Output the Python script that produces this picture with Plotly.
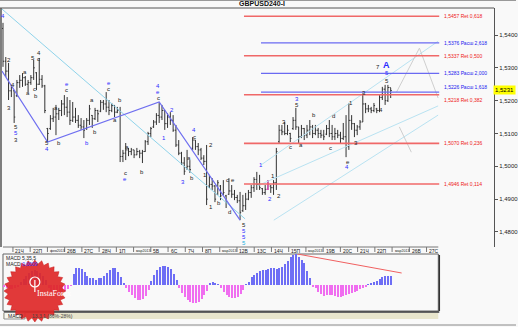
import math
import plotly.graph_objects as go

# ---------------- data ----------------
bar_open = [1.5420,1.5320,1.5290,1.5230,1.5230,1.5215,1.5255,1.5262,1.5270,1.5250,
            1.5255,1.5270,1.5285,1.5250,1.5265,1.5245,1.5115,1.5115,1.5145,1.5150,
            1.5160,1.5170,1.5190,1.5180,1.5165,1.5140,1.5150,1.5140,1.5125,1.5120,
            1.5115,1.5140,1.5155,1.5145,1.5170,1.5168,1.5195,1.5190,1.5180,1.5170,
            1.5185,1.5165,1.5170,1.5030,1.5040,1.5050,1.5045,1.5050,1.5035,1.5045,
            1.5040,1.5045,1.5075,1.5100,1.5120,1.5135,1.5155,1.5150,1.5170,1.5130,
            1.5150,1.5140,1.5110,1.5065,1.5040,1.5010,1.4995,1.5000,1.5055,1.5080,
            1.5060,1.5050,1.5025,1.5015,1.4940,1.4945,1.4940,1.4915,1.4940,1.4915,
            1.4910,1.4915,1.4925,1.4915,1.4905,1.4895,1.4865,1.4880,1.4900,1.4920,
            1.4935,1.4960,1.4945,1.4932,1.4920,1.4930,1.4940,1.4935,1.4950,1.5075,
            1.5110,1.5105,1.5100,1.5100,1.5115,1.5140,1.5120,1.5090,1.5115,1.5095,
            1.5110,1.5120,1.5100,1.5110,1.5100,1.5095,1.5098,1.5115,1.5100,1.5090,
            1.5100,1.5095,1.5085,1.5090,1.5060,1.5140,1.5130,1.5110,1.5120,1.5135,
            1.5190,1.5175,1.5175,1.5170,1.5175,1.5170,1.5210,1.5235,1.5200,1.5240]
bar_high = [1.5437,1.5333,1.5315,1.5248,1.5232,1.5263,1.5278,1.5284,1.5275,1.5263,
            1.5278,1.5324,1.5287,1.5330,1.5278,1.5248,1.5117,1.5156,1.5178,1.5187,
            1.5178,1.5202,1.5217,1.5211,1.5202,1.5196,1.5178,1.5156,1.5147,1.5141,
            1.5147,1.5187,1.5156,1.5178,1.5172,1.5202,1.5202,1.5226,1.5202,1.5193,
            1.5187,1.5181,1.5181,1.5050,1.5071,1.5056,1.5056,1.5050,1.5056,1.5050,
            1.5050,1.5080,1.5105,1.5120,1.5141,1.5162,1.5196,1.5187,1.5172,1.5162,
            1.5165,1.5156,1.5126,1.5080,1.5044,1.5028,1.5050,1.5019,1.5089,1.5080,
            1.5071,1.5056,1.5034,1.5065,1.4974,1.4964,1.4943,1.4958,1.4943,1.4958,
            1.4913,1.4964,1.4943,1.4928,1.4913,1.4922,1.4913,1.4919,1.4928,1.4943,
            1.4967,1.4983,1.4974,1.4934,1.4943,1.4958,1.4943,1.4958,1.5056,1.5126,
            1.5126,1.5135,1.5126,1.5102,1.5150,1.5178,1.5120,1.5126,1.5117,1.5126,
            1.5141,1.5126,1.5126,1.5117,1.5111,1.5111,1.5126,1.5141,1.5126,1.5117,
            1.5111,1.5105,1.5132,1.5156,1.5193,1.5156,1.5132,1.5126,1.5141,1.5223,
            1.5193,1.5187,1.5181,1.5193,1.5178,1.5217,1.5242,1.5248,1.5248,1.5239]
bar_low = [1.5303,1.5272,1.5202,1.5211,1.5132,1.5211,1.5239,1.5242,1.5245,1.5226,
           1.5248,1.5263,1.5232,1.5248,1.5239,1.5162,1.5074,1.5111,1.5135,1.5095,
           1.5141,1.5153,1.5156,1.5150,1.5126,1.5135,1.5132,1.5117,1.5111,1.5086,
           1.5111,1.5126,1.5117,1.5141,1.5135,1.5165,1.5172,1.5165,1.5156,1.5165,
           1.5150,1.5162,1.5013,1.5013,1.5019,1.5031,1.5034,1.5025,1.5034,1.5025,
           1.5010,1.5044,1.5065,1.5089,1.5117,1.5126,1.5132,1.5141,1.5111,1.5117,
           1.5126,1.5105,1.5059,1.5034,1.5004,1.4974,1.4989,1.4980,1.5050,1.5050,
           1.5034,1.5019,1.5004,1.4882,1.4934,1.4928,1.4891,1.4913,1.4897,1.4913,
           1.4873,1.4913,1.4904,1.4897,1.4888,1.4836,1.4861,1.4867,1.4897,1.4904,
           1.4922,1.4928,1.4928,1.4913,1.4913,1.4928,1.4919,1.4913,1.4928,1.5071,
           1.5095,1.5095,1.5095,1.5074,1.5111,1.5111,1.5071,1.5086,1.5080,1.5086,
           1.5095,1.5086,1.5095,1.5086,1.5086,1.5080,1.5095,1.5089,1.5080,1.5080,
           1.5086,1.5071,1.5080,1.5028,1.5050,1.5111,1.5089,1.5095,1.5111,1.5135,
           1.5162,1.5165,1.5162,1.5165,1.5162,1.5165,1.5202,1.5187,1.5196,1.5208]
bar_close = [1.5320,1.5290,1.5230,1.5240,1.5150,1.5255,1.5262,1.5270,1.5250,1.5255,
             1.5270,1.5300,1.5250,1.5265,1.5245,1.5170,1.5100,1.5145,1.5150,1.5160,
             1.5170,1.5190,1.5180,1.5165,1.5140,1.5150,1.5140,1.5125,1.5120,1.5110,
             1.5140,1.5175,1.5145,1.5170,1.5160,1.5195,1.5190,1.5180,1.5170,1.5185,
             1.5165,1.5170,1.5030,1.5040,1.5050,1.5045,1.5050,1.5035,1.5045,1.5040,
             1.5045,1.5075,1.5100,1.5115,1.5135,1.5155,1.5150,1.5170,1.5130,1.5150,
             1.5140,1.5110,1.5065,1.5040,1.5010,1.4985,1.5000,1.4990,1.5080,1.5060,
             1.5050,1.5025,1.5015,1.4900,1.4945,1.4940,1.4900,1.4950,1.4910,1.4920,
             1.4890,1.4925,1.4915,1.4905,1.4895,1.4860,1.4880,1.4900,1.4920,1.4935,
             1.4960,1.4945,1.4935,1.4920,1.4930,1.4945,1.4935,1.4950,1.5045,1.5110,
             1.5105,1.5100,1.5110,1.5085,1.5140,1.5120,1.5090,1.5115,1.5095,1.5110,
             1.5120,1.5100,1.5110,1.5100,1.5095,1.5090,1.5115,1.5100,1.5090,1.5100,
             1.5095,1.5085,1.5090,1.5060,1.5140,1.5130,1.5110,1.5120,1.5135,1.5190,
             1.5175,1.5175,1.5170,1.5185,1.5170,1.5210,1.5235,1.5200,1.5240,1.5231]
highlight_bar = 95          # bar drawn in magenta
last_price = 1.5231

# MACD histogram (pips, 1 pip = 0.0001)
macd_pips = [-2,-3,-4,-4,-3,-2,
             3,6,9,12,14,15,14,12,9,5,
             -3,-6,-8,-9,-9,-8,-6,-4,-1,
             10.7,16.7,17.2,16,13,9.3,7.3,7.3,5.5,6.7,7.5,9.3,12.5,15.5,17.5,17.5,13,8,1.7,
             -3.3,-6.7,-10,-12.7,-14.5,-15,-14,-11,-5,
             4,10,15,18.3,19.3,19.3,18.3,16,11,5,
             -3,-8,-12,-15,-17,-18.3,-18.3,-17,-14,-10,-6,
             1.7,3.3,2.3,0.7,
             -3.3,-6.7,-10,-11.7,-12.7,-12.7,-11.5,-9,-5,
             0.7,3.3,8.3,10.5,11.7,14,15,15.5,16.3,17,16.8,16.5,17.3,18.5,21,24.5,28.5,30.5,30.7,28,25,22,14,6.7,
             -1.7,-3.3,-6.7,-9.3,-10.7,-10,-9.5,-10.2,-11,-11.7,-11.7,-11,-10,-9.3,-8.3,-7.3,-6,-4,-2.7,-1.5,
             0.5,1.7,2.7,4,6,8.3,9.3,9.3,9.5]
macd_trend_x = [105.4, 142.9]
macd_trend_y = [31, 12]

# Fibonacci levels
ret_levels = [1.5457, 1.5337, 1.5218, 1.5070, 1.4946]
ret_ratios = ["0,618", "0,500", "0,382", "0,236", "0,114"]
ext_levels = [1.5376, 1.5283, 1.5226]
ext_ratios = ["2,618", "2,000", "1,618"]
ret_start, ext_start, fib_end = 86.4, 92.5, 156.4

# trend lines (bar index, price)
cyan_line_x = [-0.36, 86.8]
cyan_line_y = [1.5479, 1.4840]
zigzag_x = [-0.36, 16, 56, 85]
zigzag_y = [1.5290, 1.5074, 1.5196, 1.4836]
channel_lines = [([92.5, 156.0], [1.5004, 1.5381]),
                 ([91.1, 156.0], [1.4940, 1.5184]),
                 ([97.1, 156.0], [1.4836, 1.5156])]
gray_lines = [([141.1, 149.3], [1.5226, 1.5360]),
              ([149.3, 156.0], [1.5360, 1.5208]),
              ([142.1, 146.4], [1.5120, 1.5043])]

# wave labels: (bar index, price, text, color-key)
wave_labels = [
    (0, 1.5458, "4", "b"), (2.1, 1.5324, "2", "k"), (2.1, 1.5178, "3", "k"),
    (3.6, 1.5248, "4", "k"), (4.6, 1.5120, "5", "k"), (4.6, 1.5101, "5", "b"),
    (4.6, 1.5080, "3", "k"), (7.9, 1.5287, "a", "k"), (8.9, 1.5223, "a", "k"),
    (10.7, 1.5330, "5", "k"), (11.4, 1.5236, "c", "k"), (11.8, 1.5214, "b", "k"),
    (12.9, 1.5345, "4", "k"), (12.9, 1.5327, "c", "k"), (15.7, 1.5071, "5", "k"),
    (15.7, 1.5053, "4", "b"), (18.9, 1.5178, "a", "k"), (20, 1.5071, "b", "k"),
    (22.9, 1.5251, "e", "b"), (22.9, 1.5232, "c", "k"), (31.8, 1.5202, "a", "k"),
    (32.9, 1.5105, "b", "k"), (30, 1.5071, "b", "b"), (37.9, 1.5254, "e", "b"),
    (37.9, 1.5236, "c", "k"), (41.8, 1.5202, "b", "k"), (40, 1.5141, "a", "k"),
    (44.6, 1.5059, "a", "k"), (43.9, 1.4980, "c", "k"), (43.9, 1.4961, "e", "b"),
    (50, 1.4983, "b", "k"), (55.7, 1.5245, "4", "b"), (55.7, 1.5226, "e", "b"),
    (55.7, 1.5208, "c", "k"), (57.9, 1.5086, "1", "b"), (60.7, 1.5172, "2", "b"),
    (64.6, 1.4952, "3", "b"), (66.8, 1.5025, "a", "k"), (67.9, 1.4964, "b", "k"),
    (68.6, 1.5111, "4", "b"), (68.6, 1.5089, "c", "k"), (74.6, 1.5065, "2", "k"),
    (72.5, 1.4974, "1", "k"), (74.6, 1.4876, "1", "k"), (77.5, 1.4888, "b", "k"),
    (80.4, 1.4958, "c", "k"), (81.1, 1.4861, "d", "k"), (82.5, 1.4958, "e", "k"),
    (86.4, 1.4821, "5", "k"), (86.4, 1.4803, "5", "b"), (86.4, 1.4785, "5", "b"),
    (86.4, 1.4766, "5", "c"), (92.5, 1.5004, "1", "b"), (96.8, 1.4971, "1", "k"),
    (95.7, 1.4900, "2", "b"), (98.9, 1.4910, "2", "k"), (100.7, 1.5135, "3", "k"),
    (105.4, 1.5205, "3", "b"), (105.4, 1.5187, "5", "k"), (103.2, 1.5059, "c", "k"),
    (106.8, 1.5065, "a", "k"), (111.4, 1.5156, "b", "k"), (117.5, 1.5056, "c", "k"),
    (118.6, 1.5153, "d", "k"), (124.6, 1.5193, "1", "k"), (123.6, 1.5013, "e", "k"),
    (123.2, 1.4998, "4", "b"), (126.4, 1.5071, "3", "k"), (129.3, 1.5223, "3", "k"),
    (135.4, 1.5172, "4", "k"), (137.5, 1.5260, "5", "k"), (137.5, 1.5284, "5", "b"),
    (134.3, 1.5303, "7", "k"),
]
big_label = (137.5, 1.5308, "A")

# date axis
date_labels = ["21Ч", "22П", "фев2013", "26В", "27С", "28Ч", "1П", "мар2013", "5В", "6С",
               "7Ч", "8П", "мар2013", "12В", "13С", "14Ч", "15П", "мар2013", "19В", "20С",
               "21Ч", "22П", "мар2013", "26В", "27С"]

# ---------------- layout helpers ----------------
W, H = 518, 327
BAR_PX = 2.8  # pixel step per bar, first bar at x=3px
def px(x):
    return x / W
def py(y):
    return 1 - y / H
def idx_of(xpix):
    return (xpix - 3) / BAR_PX

FONT = "Liberation Sans, Arial, sans-serif"
col = {"k": "#222222", "b": "#2a2aff", "c": "#22b0e0"}
RED = "#f06868"
BLUE = "#6a6af2"

n = len(bar_close)
xs = list(range(n))
fig = go.Figure()

# trend lines (behind bars)
fig.add_trace(go.Scatter(x=cyan_line_x, y=cyan_line_y, mode="lines",
                         line=dict(color="#8fd3ea", width=1), hoverinfo="skip"))
for lx, ly in channel_lines:
    fig.add_trace(go.Scatter(x=lx, y=ly, mode="lines",
                             line=dict(color="#b9e3f2", width=1), hoverinfo="skip"))
for lx, ly in gray_lines:
    fig.add_trace(go.Scatter(x=lx, y=ly, mode="lines",
                             line=dict(color="#cfcfcf", width=1), hoverinfo="skip"))
fig.add_trace(go.Scatter(x=zigzag_x, y=zigzag_y, mode="lines",
                         line=dict(color="#6f6ff0", width=1.2), hoverinfo="skip"))

# fib lines
for lv in ret_levels:
    fig.add_trace(go.Scatter(x=[ret_start, fib_end], y=[lv, lv], mode="lines",
                             line=dict(color=RED, width=1.6), hoverinfo="skip"))
for lv in ext_levels:
    fig.add_trace(go.Scatter(x=[ext_start, fib_end], y=[lv, lv], mode="lines",
                             line=dict(color=BLUE, width=1.4), hoverinfo="skip"))

# price bars
fig.add_trace(go.Ohlc(x=xs, open=bar_open, high=bar_high, low=bar_low, close=bar_close,
                      increasing=dict(line=dict(color="#333333", width=1)),
                      decreasing=dict(line=dict(color="#333333", width=1)),
                      tickwidth=0.4, hoverinfo="skip"))
fig.add_trace(go.Ohlc(x=[highlight_bar], open=[bar_open[highlight_bar]],
                      high=[bar_high[highlight_bar]], low=[bar_low[highlight_bar]],
                      close=[bar_close[highlight_bar]],
                      increasing=dict(line=dict(color="#ff33cc", width=1)),
                      decreasing=dict(line=dict(color="#ff33cc", width=1)),
                      tickwidth=0.4, hoverinfo="skip"))

# MACD histogram
fig.add_trace(go.Bar(x=xs, y=macd_pips, xaxis="x2", yaxis="y2", width=0.42,
                     marker=dict(color=["#6e6ef5" if v >= 0 else "#f06ef0" for v in macd_pips],
                                 line=dict(width=0)), hoverinfo="skip"))
fig.add_trace(go.Scatter(x=macd_trend_x, y=macd_trend_y, xaxis="x2", yaxis="y2", mode="lines",
                         line=dict(color="#f06060", width=1), hoverinfo="skip"))

annotations = []
# fib labels
for lv, r in zip(ret_levels, ret_ratios):
    annotations.append(dict(x=idx_of(444), y=lv, xref="x", yref="y", xanchor="left",
                            yanchor="top" if lv == 1.5218 else "middle", showarrow=False,
                            text=("%.4f" % lv).replace(".", ",") + " Ret " + r,
                            font=dict(size=5, color="#ee2020", family=FONT)))
for lv, r in zip(ext_levels, ext_ratios):
    annotations.append(dict(x=idx_of(444), y=lv, xref="x", yref="y", xanchor="left",
                            yanchor="bottom" if lv == 1.5226 else "middle", showarrow=False,
                            text=("%.4f" % lv).replace(".", ",") + " Расш " + r,
                            font=dict(size=5, color="#2020ee", family=FONT)))
# wave labels
for wx, wy, t, c in wave_labels:
    annotations.append(dict(x=wx, y=wy, xref="x", yref="y", showarrow=False, text=t,
                            font=dict(size=6, color=col[c], family=FONT)))
annotations.append(dict(x=big_label[0], y=big_label[1], xref="x", yref="y", showarrow=False,
                        text="<b>" + big_label[2] + "</b>",
                        font=dict(size=9, color="#2a2aff", family=FONT)))
# title
annotations.append(dict(x=px(238), y=py(4), xref="paper", yref="paper", xanchor="left",
                        yanchor="middle", showarrow=False, text="<b>GBPUSD240-I</b>",
                        font=dict(size=7, color="#111111", family=FONT)))
# current price tag
annotations.append(dict(x=px(518), y=last_price, xref="paper", yref="y", xanchor="right",
                        yanchor="middle", showarrow=False, text="1,5231", bgcolor="#ffff00",
                        borderpad=1, font=dict(size=6, color="#000000", family=FONT)))
# date labels
date_tick_px = [13 + 17.3 * k for k in range(len(date_labels))]
for tp, lab in zip(date_tick_px, date_labels):
    long_lab = len(lab) > 4
    annotations.append(dict(x=px(tp + 0.5), y=py(251), xref="paper", yref="paper",
                            xanchor="left", yanchor="middle", showarrow=False, text=lab,
                            font=dict(size=3.6 if long_lab else 5, color="#222222",
                                      family="Liberation Sans Narrow, Liberation Sans, sans-serif")))
# MACD texts
annotations.append(dict(x=px(4), y=py(258), xref="paper", yref="paper", xanchor="left",
                        yanchor="middle", showarrow=False, text="MACD 5,35,5",
                        font=dict(size=5, color="#222222", family=FONT)))
annotations.append(dict(x=px(4), y=py(264), xref="paper", yref="paper", xanchor="left",
                        yanchor="middle", showarrow=False,
                        text="MACD <span style='color:#3030ff'>0,0009</span>",
                        font=dict(size=5, color="#222222", family=FONT)))
# bottom tab texts
annotations.append(dict(x=px(6), y=py(315.5), xref="paper", yref="paper", xanchor="left",
                        yanchor="middle", showarrow=False, text="MACD",
                        font=dict(size=5, color="#222222", family=FONT)))
annotations.append(dict(x=px(30), y=py(315.5), xref="paper", yref="paper", xanchor="left",
                        yanchor="middle", showarrow=False, text="13.3.1 (86%-28%)",
                        font=dict(size=5, color="#444444", family=FONT)))
# logo text
annotations.append(dict(x=px(35), y=py(300), xref="paper", yref="paper", showarrow=False,
                        text="InstaForex", font=dict(size=8, color="#ffffff",
                                                     family="Liberation Serif, serif")))

shapes = []
# frame lines
shapes.append(dict(type="line", xref="paper", yref="paper", x0=0, x1=px(496),
                   y0=py(8), y1=py(8), line=dict(color="#555555", width=1)))
shapes.append(dict(type="line", xref="paper", yref="paper", x0=0, x1=1,
                   y0=py(0.5), y1=py(0.5), line=dict(color="#999999", width=1)))
shapes.append(dict(type="line", xref="paper", yref="paper", x0=px(1), x1=px(1),
                   y0=py(8), y1=py(247), line=dict(color="#555555", width=1.5)))
shapes.append(dict(type="line", xref="paper", yref="paper", x0=px(3), x1=px(440),
                   y0=py(247), y1=py(247), line=dict(color="#777777", width=1)))
for tp in date_tick_px:
    shapes.append(dict(type="line", xref="paper", yref="paper", x0=px(tp), x1=px(tp),
                       y0=py(247), y1=py(252), line=dict(color="#777777", width=1)))
# MACD panel box
shapes.append(dict(type="rect", xref="paper", yref="paper", x0=px(3), x1=px(440),
                   y0=py(311), y1=py(254), line=dict(color="#666666", width=1),
                   layer="below"))
shapes.append(dict(type="line", xref="paper", yref="paper", x0=px(441), x1=px(441),
                   y0=py(311), y1=py(255), line=dict(color="#333333", width=1.5)))
shapes.append(dict(type="line", xref="paper", yref="paper", x0=px(4), x1=px(441),
                   y0=py(312), y1=py(312), line=dict(color="#333333", width=1.5)))
# bottom tab bar
shapes.append(dict(type="rect", xref="paper", yref="paper", x0=px(3), x1=px(440),
                   y0=py(319), y1=py(313), line=dict(width=0), fillcolor="#e8e5cc"))
shapes.append(dict(type="rect", xref="paper", yref="paper", x0=px(4), x1=px(25),
                   y0=py(319), y1=py(312.5), line=dict(color="#777777", width=0.8),
                   fillcolor="#f7f7f0"))
shapes.append(dict(type="line", xref="paper", yref="paper", x0=0, x1=1,
                   y0=py(325), y1=py(325), line=dict(color="#888888", width=1)))
# logo starburst
cx, cy, r_out, r_in, npt = 35, 291, 31, 27, 28
pts = []
for k in range(2 * npt):
    rr = r_out if k % 2 == 0 else r_in
    a = math.pi * k / npt
    pts.append((px(cx + rr * math.cos(a)), py(cy + rr * math.sin(a))))
path = "M " + " L ".join("%.5f %.5f" % p for p in pts) + " Z"
shapes.append(dict(type="path", xref="paper", yref="paper", path=path,
                   fillcolor="rgba(222,40,40,0.92)", line=dict(color="#c81e1e", width=0.5)))
# logo icon
shapes.append(dict(type="circle", xref="paper", yref="paper", x0=px(30), x1=px(40),
                   y0=py(287), y1=py(277), line=dict(color="#ffffff", width=1.2)))
shapes.append(dict(type="line", xref="paper", yref="paper", x0=px(35), x1=px(35),
                   y0=py(292), y1=py(280), line=dict(color="#ffffff", width=1.2)))

fig.update_layout(
    width=W, height=H, margin=dict(l=0, r=0, t=0, b=0),
    paper_bgcolor="#f9f9f9", plot_bgcolor="#f9f9f9",
    showlegend=False, separators=", ", bargap=0,
    font=dict(family=FONT, size=6, color="#222222"),
    xaxis=dict(domain=[px(2), px(496)], range=[idx_of(2), idx_of(496)],
               showgrid=False, zeroline=False, showticklabels=False, ticks="",
               rangeslider=dict(visible=False), fixedrange=True),
    yaxis=dict(domain=[py(247), py(8)], range=[1.5400 + (35 - 247) * 0.0003046,
                                                1.5400 + (35 - 8) * 0.0003046],
               side="right", showgrid=False, zeroline=False, showline=True,
               linecolor="#555555", linewidth=1, ticks="outside", ticklen=3,
               tickcolor="#555555", tickvals=[1.48, 1.49, 1.50, 1.51, 1.52, 1.53, 1.54],
               tickformat=".4f", tickfont=dict(size=6, color="#222222", family=FONT)),
    xaxis2=dict(domain=[px(3), px(440)], range=[-0.4, idx_of(440)], anchor="y2",
                showgrid=False, zeroline=False, showticklabels=False, ticks=""),
    yaxis2=dict(domain=[py(311), py(254)], range=[-26, 31], anchor="x2",
                showgrid=False, zeroline=False, showticklabels=False, ticks=""),
    annotations=annotations, shapes=shapes,
)

fig.write_html("out.html")
